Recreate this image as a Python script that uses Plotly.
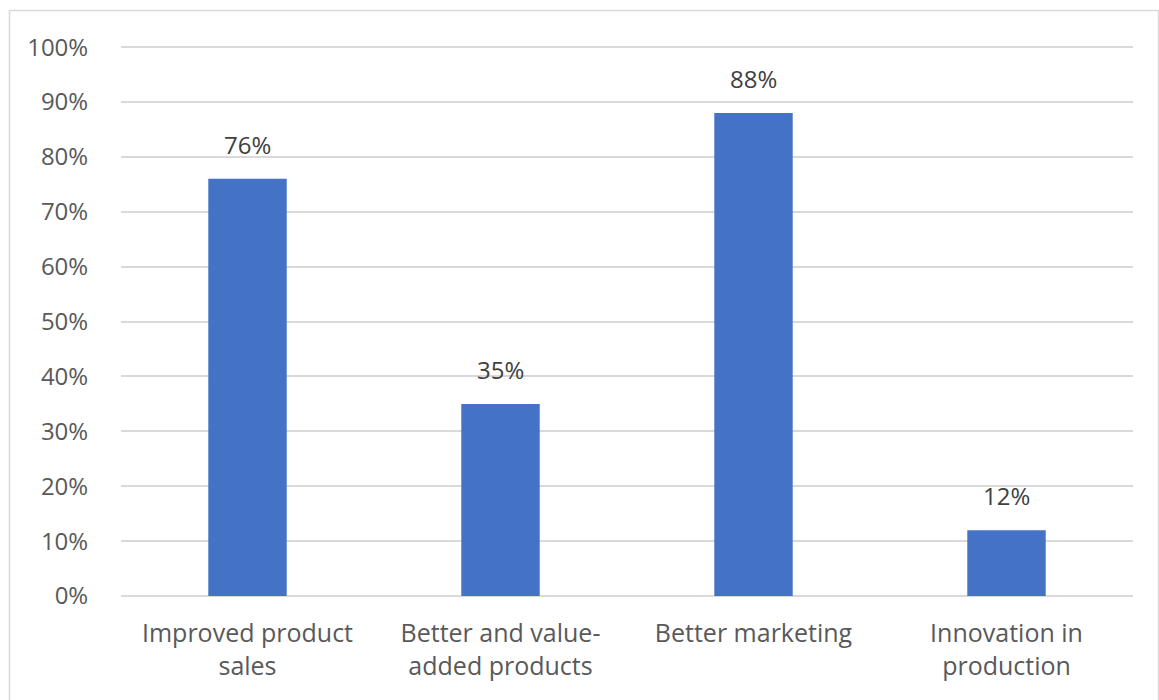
import plotly.graph_objects as go

categories = ["Improved product<br>sales", "Better and value-<br>added products",
              "Better marketing", "Innovation in<br>production"]
shares = [0.76, 0.35, 0.88, 0.12]
tick_vals = [i / 10 for i in range(11)]
tick_text = [f"{i * 10}%" for i in range(11)]

W, H = 1159, 700
L, R, T, B = 121, 26, 46, 104
pw, ph = W - L - R, H - T - B
FONT = "Open Sans"

def px_x(x):
    return (x - L) / pw

def px_y(y):
    return (H - B - y) / ph

fig = go.Figure(go.Bar(
    x=categories,
    y=shares,
    marker=dict(color="#4472C4", line=dict(width=0)),
    width=0.31,
    hoverinfo="x+y",
))

# value labels above each bar
for c, v in zip(categories, shares):
    fig.add_annotation(x=c, y=v, text=f"{v:.0%}", showarrow=False,
                       yanchor="bottom", yshift=16,
                       font=dict(family=FONT, size=24, color="#404040"))

fig.update_layout(
    width=W, height=H,
    margin=dict(l=L, r=R, t=T, b=B),
    paper_bgcolor="white",
    plot_bgcolor="white",
    showlegend=False,
    font=dict(family=FONT, size=24, color="#595959"),
    xaxis=dict(showgrid=False, showline=False, ticks="outside", ticklen=15,
               tickcolor="rgba(0,0,0,0)",
               tickfont=dict(family=FONT, size=25, color="#595959")),
    yaxis=dict(range=[0, 1.002], tickvals=tick_vals, ticktext=tick_text,
               showgrid=True, gridcolor="#d9d9d9", gridwidth=1.5,
               zeroline=True, zerolinecolor="#d9d9d9", zerolinewidth=1.5,
               showline=False, ticks="outside", ticklen=27, tickcolor="rgba(0,0,0,0)",
               tickfont=dict(family=FONT, size=24, color="#595959")),
    shapes=[dict(type="rect", xref="paper", yref="paper",
                 x0=px_x(9.5), x1=px_x(1158.5), y0=px_y(710), y1=px_y(10.5),
                 line=dict(color="#d9d9d9", width=1.5), fillcolor="rgba(0,0,0,0)",
                 layer="below")],
)

fig.write_html("out.html")
